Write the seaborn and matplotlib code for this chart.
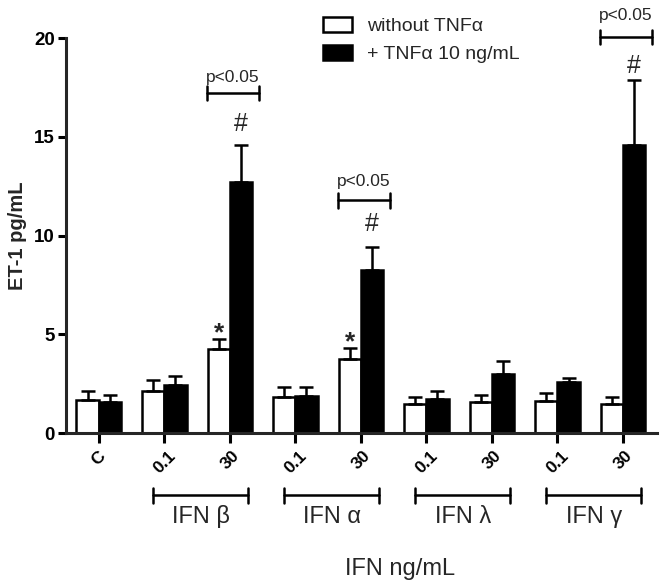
import pandas as pd
import matplotlib
matplotlib.use('Agg')
import matplotlib.pyplot as plt
import seaborn as sns
from matplotlib.patches import Patch

sns.set_style('ticks')
plt.rcParams['font.family'] = ['Liberation Sans', 'DejaVu Sans']

# data
conditions = ['C', 'β 0.1', 'β 30', 'α 0.1', 'α 30', 'λ 0.1', 'λ 30', 'γ 0.1', 'γ 30']
tick_labels = ['C', '0.1', '30', '0.1', '30', '0.1', '30', '0.1', '30']
tnf_levels = ['without TNFα', '+ TNFα 10 ng/mL']
without_tnf = [1.69, 2.12, 4.28, 1.81, 3.77, 1.47, 1.57, 1.64, 1.47]
with_tnf = [1.56, 2.45, 12.7, 1.90, 8.26, 1.74, 3.01, 2.57, 14.58]
err_without = [0.46, 0.59, 0.46, 0.51, 0.54, 0.36, 0.34, 0.39, 0.34]
err_with = [0.39, 0.46, 1.87, 0.45, 1.18, 0.41, 0.63, 0.22, 3.29]
groups = ['IFN β', 'IFN α', 'IFN λ', 'IFN γ']

df = pd.DataFrame({
    'cond': conditions * 2,
    'tnf': [tnf_levels[0]] * 9 + [tnf_levels[1]] * 9,
    'value': without_tnf + with_tnf,
})

fig = plt.figure(figsize=(6.64, 5.86), dpi=100)
ax = fig.add_axes([0.0994, 0.261, 0.89, 0.674])

sns.barplot(data=df, x='cond', y='value', hue='tnf', order=conditions,
            hue_order=tnf_levels, palette=['white', 'black'], saturation=1,
            width=0.68, edgecolor='black', linewidth=1.8, errorbar=None,
            legend=False, ax=ax)

# upper error bars on each bar
for cont, errs in zip(ax.containers, [err_without, err_with]):
    xs = [b.get_x() + b.get_width() / 2 for b in cont]
    hs = [b.get_height() for b in cont]
    ax.errorbar(xs, hs, yerr=[[0] * len(errs), errs], fmt='none', ecolor='black',
                elinewidth=1.8, capsize=4.7, capthick=1.8, zorder=3)

ax.set_xlim(-0.5, 8.52)
ax.set_ylim(0, 20)
ax.set_yticks([0, 5, 10, 15, 20])
ax.set_xticks(range(9))
ax.set_xticklabels(tick_labels, rotation=45, ha='center', fontsize=12.5, fontweight='bold')
plt.setp(ax.get_yticklabels(), fontsize=13.5, fontweight='bold')
sns.despine(ax=ax)
for s in ['left', 'bottom']:
    ax.spines[s].set_linewidth(2.2)
ax.tick_params(axis='y', length=6, width=2.2, pad=2, colors='black')
ax.tick_params(axis='x', length=7, width=2.2, pad=4, colors='black')

ax.set_ylabel('ET-1 pg/mL', fontsize=14.5, fontweight='bold')
ax.yaxis.label.set_va('center')
ax.yaxis.set_label_coords(-0.082, 0.5)
ax.set_xlabel('IFN ng/mL', fontsize=17)
ax.xaxis.label.set_va('baseline')
ax.xaxis.set_label_coords(0.566, -0.36)

# significance marks
ax.text(2 - 0.17, 4.72, '*', ha='center', va='baseline', fontsize=19, fontweight='bold')
ax.text(4 - 0.17, 4.23, '*', ha='center', va='baseline', fontsize=19, fontweight='bold')
for x, y_hash, y_br, y_txt in [(2, 15.28, 17.2, 17.77), (4, 10.22, 11.78, 12.49),
                               (8, 18.25, 20.05, 20.9)]:
    ax.text(x + 0.17, y_hash, '#', ha='center', va='baseline', fontsize=18, clip_on=False)
    x0, x1 = x - 0.35, x + 0.45
    ax.plot([x0, x1], [y_br, y_br], color='black', lw=1.8, clip_on=False)
    ax.plot([x0, x0], [y_br - 0.36, y_br + 0.36], color='black', lw=1.8, clip_on=False)
    ax.plot([x1, x1], [y_br - 0.36, y_br + 0.36], color='black', lw=1.8, clip_on=False)
    ax.text((x0 + x1) / 2, y_txt, 'p<0.05', ha='center', va='baseline', fontsize=12.5,
            clip_on=False)

# IFN group brackets under the axis
trans = ax.get_xaxis_transform()
for k, name in zip([1, 3, 5, 7], groups):
    x0, x1 = k - 0.17, k + 1.28
    yb = -0.158
    ax.plot([x0, x1], [yb, yb], color='black', lw=1.8, transform=trans, clip_on=False)
    ax.plot([x0, x0], [yb - 0.018, yb + 0.018], color='black', lw=1.8, transform=trans, clip_on=False)
    ax.plot([x1, x1], [yb - 0.018, yb + 0.018], color='black', lw=1.8, transform=trans, clip_on=False)
    ax.text((x0 + x1) / 2, -0.228, name, ha='center', va='baseline', fontsize=17,
            transform=trans)

handles = [Patch(facecolor='white', edgecolor='black', linewidth=1.8),
           Patch(facecolor='black', edgecolor='black', linewidth=1.8)]
fig.legend(handles, tnf_levels, loc='upper left', bbox_to_anchor=(0.486, 0.971),
           frameon=False, fontsize=14, handlelength=1.5, handleheight=0.8,
           handletextpad=0.77, labelspacing=0.5, borderpad=0, borderaxespad=0)

fig.savefig('out.png', dpi=100)
